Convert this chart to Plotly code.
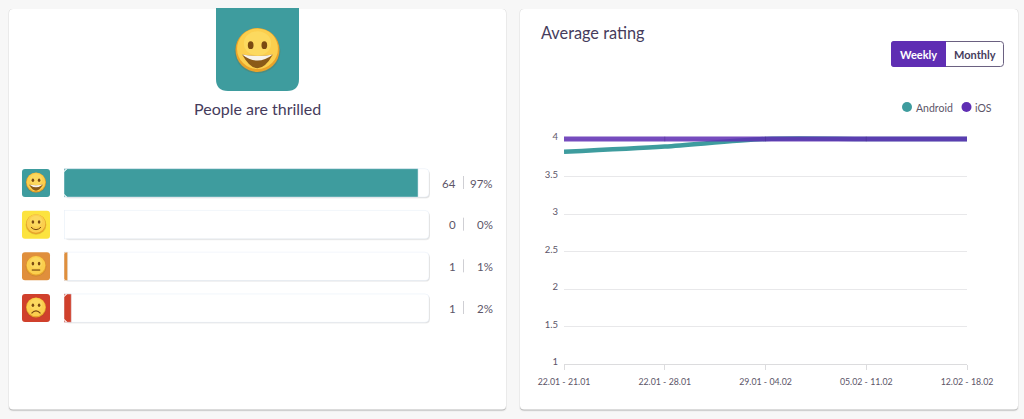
import plotly.graph_objects as go

W, H = 1024, 419

# ---- data ----
mood_names = ["Thrilled", "Happy", "Neutral", "Unhappy"]
mood_counts = [64, 0, 1, 1]
mood_percents = [97, 0, 1, 2]
mood_colors = ["#3e9c9e", "#fce33f", "#e08f3c", "#d0402c"]
mood_faces = ["grin", "smile", "flat", "sad"]
track_full = [100, 100, 100, 100]

week_labels = ["22.01 - 21.01", "22.01 - 28.01", "29.01 - 04.02", "05.02 - 11.02", "12.02 - 18.02"]
android_rating = [3.83, 3.9, 4, 4, 4]
ios_rating = [4, 4, 4, 4, 4]
rating_ticks = [1, 1.5, 2, 2.5, 3, 3.5, 4]
rating_labels = ["1", "1.5", "2", "2.5", "3", "3.5", "4"]

TEAL = "#3e9c9e"
PURPLE = "#5f2eb3"
INK = "#463c5c"
SOFT = "#5c5568"
FONT = "Lato"


def px(x):
    return x / W


def py(y):
    return 1 - y / H


shapes, notes = [], []


def rrect(x0, y0, x1, y1, r, fill, line=None, lw=0, layer="below", corners=(1, 1, 1, 1)):
    tl, tr, br, bl = [r * c for c in corners]
    P = lambda x, y: f"{px(x):.5f},{py(y):.5f}"
    d = f"M{P(x0 + tl, y0)} L{P(x1 - tr, y0)} "
    if tr:
        d += f"Q{P(x1, y0)} {P(x1, y0 + tr)} "
    d += f"L{P(x1, y1 - br)} "
    if br:
        d += f"Q{P(x1, y1)} {P(x1 - br, y1)} "
    d += f"L{P(x0 + bl, y1)} "
    if bl:
        d += f"Q{P(x0, y1)} {P(x0, y1 - bl)} "
    d += f"L{P(x0, y0 + tl)} "
    if tl:
        d += f"Q{P(x0, y0)} {P(x0 + tl, y0)} "
    d += "Z"
    shapes.append(dict(type="path", xref="paper", yref="paper", path=d, fillcolor=fill,
                       line=dict(color=line or "rgba(0,0,0,0)", width=lw), layer=layer))


def circle(cx, cy, rx, ry, fill, layer="above"):
    shapes.append(dict(type="circle", xref="paper", yref="paper", x0=px(cx - rx), x1=px(cx + rx),
                       y0=py(cy + ry), y1=py(cy - ry), fillcolor=fill,
                       line=dict(width=0, color="rgba(0,0,0,0)"), layer=layer))


def curve(pts, fill=None, line=None, lw=0, close=False):
    a = [f"{px(x):.5f},{py(y):.5f}" for x, y in pts]
    d = f"M{a[0]} Q{a[1]} {a[2]}"
    if len(a) > 3:
        d += f" Q{a[3]} {a[4]}"
    if close:
        d += " Z"
    shapes.append(dict(type="path", xref="paper", yref="paper", path=d,
                       fillcolor=fill or "rgba(0,0,0,0)",
                       line=dict(color=line or "rgba(0,0,0,0)", width=lw), layer="above"))


def face(cx, cy, r, kind):
    circle(cx, cy + r * 0.06, r * 1.04, r * 1.0, "rgba(120,90,40,0.22)")
    circle(cx, cy, r, r, "#e9a32a")
    circle(cx, cy - r * 0.06, r * 0.93, r * 0.92, "#fbcf4e")
    circle(cx, cy - r * 0.3, r * 0.62, r * 0.55, "#fcd95f")
    eye_y = cy - r * 0.22
    circle(cx - r * 0.31, eye_y, r * 0.13, r * 0.18, "#7a4a12")
    circle(cx + r * 0.31, eye_y, r * 0.13, r * 0.18, "#7a4a12")
    if kind == "grin":
        my = cy + r * 0.2
        curve([(cx - r * 0.7, my), (cx, my + r * 1.25), (cx + r * 0.7, my), (cx, my + r * 0.14), (cx - r * 0.7, my)],
              fill="#8a5a18", close=True)
        curve([(cx - r * 0.7, my), (cx, my + r * 0.55), (cx + r * 0.7, my), (cx, my + r * 0.14), (cx - r * 0.7, my)],
              fill="#f7f3ea", close=True)
    elif kind == "smile":
        curve([(cx - r * 0.5, cy + r * 0.3), (cx, cy + r * 0.8), (cx + r * 0.5, cy + r * 0.3)], line="#7a4a12", lw=1)
    elif kind == "flat":
        curve([(cx - r * 0.42, cy + r * 0.42), (cx, cy + r * 0.42), (cx + r * 0.42, cy + r * 0.42)], line="#7a4a12", lw=1.2)
    else:
        curve([(cx - r * 0.45, cy + r * 0.58), (cx, cy + r * 0.1), (cx + r * 0.45, cy + r * 0.58)], line="#7a4a12", lw=1.2)


def text(x, y, s, size=12, color=SOFT, anchor="left", weight=None):
    notes.append(dict(xref="paper", yref="paper", x=px(x), y=py(y), text=s, showarrow=False,
                      xanchor=anchor, yanchor="middle",
                      font=dict(family=FONT, size=size, color=color, weight=weight or 400)))


# ---- cards ----
for x0, x1 in ((9, 506), (520, 1018)):
    rrect(x0 - 1, 9, x1 + 1, 411.5, 5, "rgba(0,0,0,0.05)")
    rrect(x0, 9, x1, 410.5, 4, "rgba(0,0,0,0.22)")
    rrect(x0, 9, x1, 409.5, 4, "#ffffff")

# ---- hero tile ----
rrect(216, 8, 299, 91, 12, TEAL, corners=(0, 0, 1, 1))
face(257.5, 50, 22, "grin")
text(257.5, 108.8, "People are thrilled", size=16, color=INK, anchor="center")

# ---- rows ----
ROW0, STEP = 183, 41.67
BAR_L = 64
BAR_H = 28.3
for i, (c, f) in enumerate(zip(mood_colors, mood_faces)):
    cy = ROW0 + i * STEP
    rrect(22, cy - 14, 50, cy + 14, 3, c)
    face(36, cy - 0.5, 10, f)
    rrect(65, cy - 13, 430, cy + 15.5, 4, "rgba(0,0,0,0.07)")
    rrect(65, cy - 13, 429.5, cy + 14.7, 4, "rgba(0,0,0,0.08)")
    text(458, cy, str(mood_counts[i]), size=11.5, anchor="right")
    text(494.5, cy, f"{mood_percents[i]}%", size=11.5, anchor="right")
    shapes.append(dict(type="line", xref="paper", yref="paper", x0=px(463.5), x1=px(463.5),
                       y0=py(cy + 6), y1=py(cy - 7), line=dict(color="#cfcfd4", width=1), layer="above"))
    # round the base end of each filled bar, plotly only rounds the tip
    if mood_percents[i] > 0:
        r = min(3.5, mood_percents[i] * 3.65 / 2)
        t, b = cy - BAR_H / 2, cy + BAR_H / 2
        curve([(BAR_L, t + r), (BAR_L, t), (BAR_L + r, t)], fill="#ffffff", close=True)
        curve([(BAR_L, b - r), (BAR_L, b), (BAR_L + r, b)], fill="#ffffff", close=True)

# ---- right card header ----
text(539.3, 32.3, "Average rating", size=16.3, color=INK)
rrect(891.5, 41.5, 1003.5, 66.5, 3, "#ffffff", line="#6a6080", lw=1)
rrect(891, 41, 946, 67, 3, PURPLE, corners=(1, 0, 0, 1))
text(918.5, 54, "Weekly", size=11, color="#ffffff", anchor="center", weight=700)
text(974.5, 54, "Monthly", size=11, color=INK, anchor="center", weight=700)
circle(907, 107, 5, 5, TEAL)
text(913.5, 107.5, "Android", size=10.5)
circle(966.5, 107, 5, 5, PURPLE)
text(973, 107.5, "iOS", size=10.5)

fig = go.Figure()

# ---- mood bars ----
fig.add_trace(go.Bar(x=track_full, y=mood_names, orientation="h", xaxis="x2", yaxis="y2",
                     marker=dict(color="#ffffff", cornerradius=4), width=0.68, showlegend=False))
fig.add_trace(go.Bar(x=mood_percents, y=mood_names, orientation="h", xaxis="x2", yaxis="y2",
                     marker=dict(color=mood_colors, cornerradius=3.5), width=0.68, showlegend=False))

# ---- rating lines ----
fig.add_trace(go.Scatter(x=week_labels, y=android_rating, name="Android", mode="lines",
                         line=dict(color=TEAL, width=4.5, shape="spline", smoothing=0.8), showlegend=False))
fig.add_trace(go.Scatter(x=week_labels, y=ios_rating, name="iOS", mode="lines+markers",
                         line=dict(color="rgba(95,46,179,0.86)", width=5),
                         marker=dict(symbol="line-ns", size=3.5, opacity=[0, 0.35, 0.35, 0.35, 0],
                                     line=dict(color="#3f2a80", width=1)),
                         showlegend=False))

fig.update_layout(
    width=W, height=H, autosize=False,
    margin=dict(l=0, r=0, t=0, b=0),
    paper_bgcolor="#f7f7f7", plot_bgcolor="rgba(0,0,0,0)",
    barmode="overlay", showlegend=False,
    shapes=shapes, annotations=notes,
    font=dict(family=FONT, color=SOFT, size=10),
    xaxis=dict(domain=[px(564), px(967)], range=[0, 4], type="category", automargin=False,
               categoryorder="array", categoryarray=week_labels,
               tickvals=week_labels, ticktext=week_labels,
               showgrid=False, showline=True, linecolor="#dcdcde", linewidth=1,
               ticks="outside", ticklen=5, tickcolor="#dcdcde", tickfont=dict(size=8.8, color=SOFT),
               ticklabelstandoff=4, fixedrange=True),
    yaxis=dict(domain=[py(364), py(131.5)], range=[1, 4.1], tickvals=rating_ticks, ticktext=rating_labels,
               automargin=False,
               showgrid=True, gridcolor="#e8e8ea", gridwidth=1, zeroline=False, showline=False,
               ticks="", tickfont=dict(size=9.5, color=SOFT), ticklabelstandoff=5, ticklabelshift=-2,
               fixedrange=True),
    xaxis2=dict(domain=[px(64), px(429)], range=[0, 100], anchor="y2", visible=False, fixedrange=True,
                automargin=False),
    yaxis2=dict(domain=[py(329), py(162)], range=[3.5, -0.5], type="category",
                categoryorder="array", categoryarray=mood_names, automargin=False,
                anchor="x2", visible=False, fixedrange=True),
)

fig.write_html("out.html", config=dict(displayModeBar=False),
               post_script="document.body.style.margin='0';document.body.style.overflow='hidden';")
